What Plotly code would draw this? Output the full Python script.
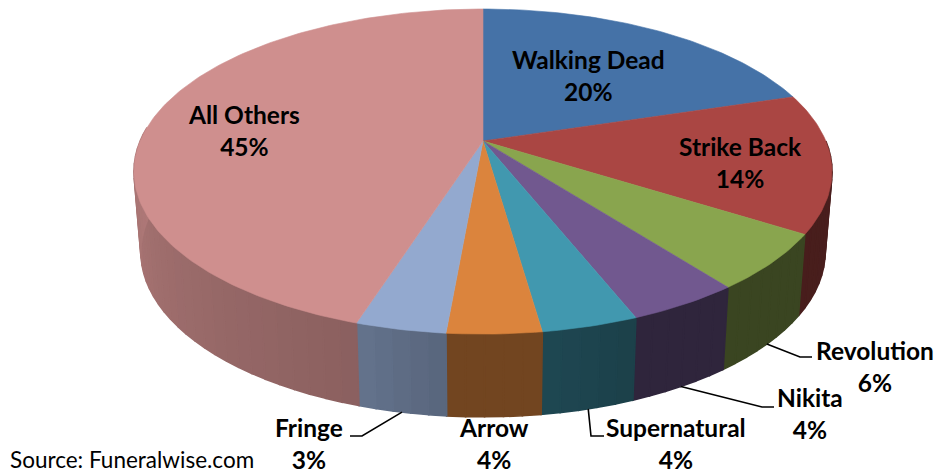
import numpy as np
import plotly.graph_objects as go

# Data
categories = ["Walking Dead", "Strike Back", "Revolution", "Nikita", "Supernatural", "Arrow", "Fringe", "All Others"]
shares = [20.2, 13.8, 5.6, 4.4, 3.75, 3.65, 3.5, 45.1]
percent_labels = ["20%", "14%", "6%", "4%", "4%", "4%", "3%", "45%"]
source_text = "Source: Funeralwise.com"

# Styles
top_colors = ["#4572A7", "#AA4643", "#89A54E", "#71588F", "#4198AF", "#DB843D", "#93A9CF", "#CF8F8E"]
side_shade = [(.42, .42), (.44, .42), (.42, .42), (.42, .42), (.42, .47),
              (.52, .52), (.60, .68), (.67, .85)]
label_pos = [(588, 75), (740, 162), (875, 366), (810, 413), (676, 443), (494, 443), (309, 443), (244, 130)]
leader_elbow = {2: [(800, 357), (812, 357)], 3: [(762, 407), (774, 407)],
                4: [(591, 436), (604, 436)], 6: [(362, 436), (350, 436)]}
CX = 483
TOP = dict(cy=141, a=156.8, b=342.8, k=.188)
BOT = dict(cy=221, a=159.0, b=336.0, k=.188)


def project(theta, g):
    w = 1 + g["k"] * np.cos(theta)
    return CX + g["b"] * np.sin(theta) / w, g["cy"] - g["a"] * np.cos(theta) / w


def shade(hexcol, f):
    r, g, b = [int(hexcol[i:i + 2], 16) for i in (1, 3, 5)]
    return f"rgb({r * f:.0f},{g * f:.0f},{b * f:.0f})"


edges = np.concatenate([[0], np.cumsum(shares)]) / np.sum(shares) * 2 * np.pi
fig = go.Figure()


def poly(xs, ys, color, width=.6):
    fig.add_trace(go.Scatter(x=xs, y=ys, mode="lines", fill="toself", fillcolor=color,
                             line=dict(color=color, width=width), showlegend=False, hoverinfo="skip"))


# Side wall (only the front half is visible)
for i in range(len(shares)):
    lo, hi = max(edges[i], np.pi / 2), min(edges[i + 1], np.radians(275))
    if hi <= lo:
        continue
    n = max(3, int((hi - lo) / np.radians(2.5)))
    t = np.linspace(lo, hi, n + 1)
    for j in range(n):
        seg = np.linspace(t[j], t[j + 1], 3)
        xt, yt = project(seg, TOP)
        xb, yb = project(seg[::-1], BOT)
        f = side_shade[i][0] + (side_shade[i][1] - side_shade[i][0]) * (j + .5) / n
        poly(np.r_[xt, xb, xt[0]], np.r_[yt, yb, yt[0]], shade(top_colors[i], f), 1.6)

# Top face
for i in range(len(shares)):
    t = np.linspace(edges[i], edges[i + 1], max(8, int((edges[i + 1] - edges[i]) / np.radians(1))))
    x, y = project(t, TOP)
    c0x, c0y = project(np.array([np.pi / 2]), dict(TOP, b=0, a=0))
    poly(np.r_[c0x, x, c0x], np.r_[c0y, y, c0y], top_colors[i])

# Leader lines start on the lower rim at the slice's middle angle
for i, elbow in leader_elbow.items():
    sx, sy = project(np.array([(edges[i] + edges[i + 1]) / 2]), BOT)
    fig.add_trace(go.Scatter(x=[sx[0]] + [p[0] for p in elbow], y=[sy[0]] + [p[1] for p in elbow],
                             mode="lines", line=dict(color="black", width=1.6),
                             showlegend=False, hoverinfo="skip"))

for name, pct, (lx, ly) in zip(categories, percent_labels, label_pos):
    fig.add_annotation(x=lx, y=ly, text=f"<b>{name}<br>{pct}</b>", showarrow=False,
                       xanchor="center", yanchor="middle",
                       font=dict(family="Lato", size=24.5, color="black"))
fig.add_annotation(x=8, y=459, text=source_text, showarrow=False, xanchor="left", yanchor="middle",
                   font=dict(family="Lato", size=22.5, color="black"))

fig.update_layout(width=940, height=474, margin=dict(l=0, r=0, t=0, b=0),
                  paper_bgcolor="white", plot_bgcolor="white",
                  xaxis=dict(range=[0, 940], visible=False, fixedrange=True),
                  yaxis=dict(range=[474, 0], visible=False, fixedrange=True))
fig.write_html("out.html", config=dict(displayModeBar=False),
               post_script="document.body.style.margin='0';document.body.style.overflow='hidden';")
